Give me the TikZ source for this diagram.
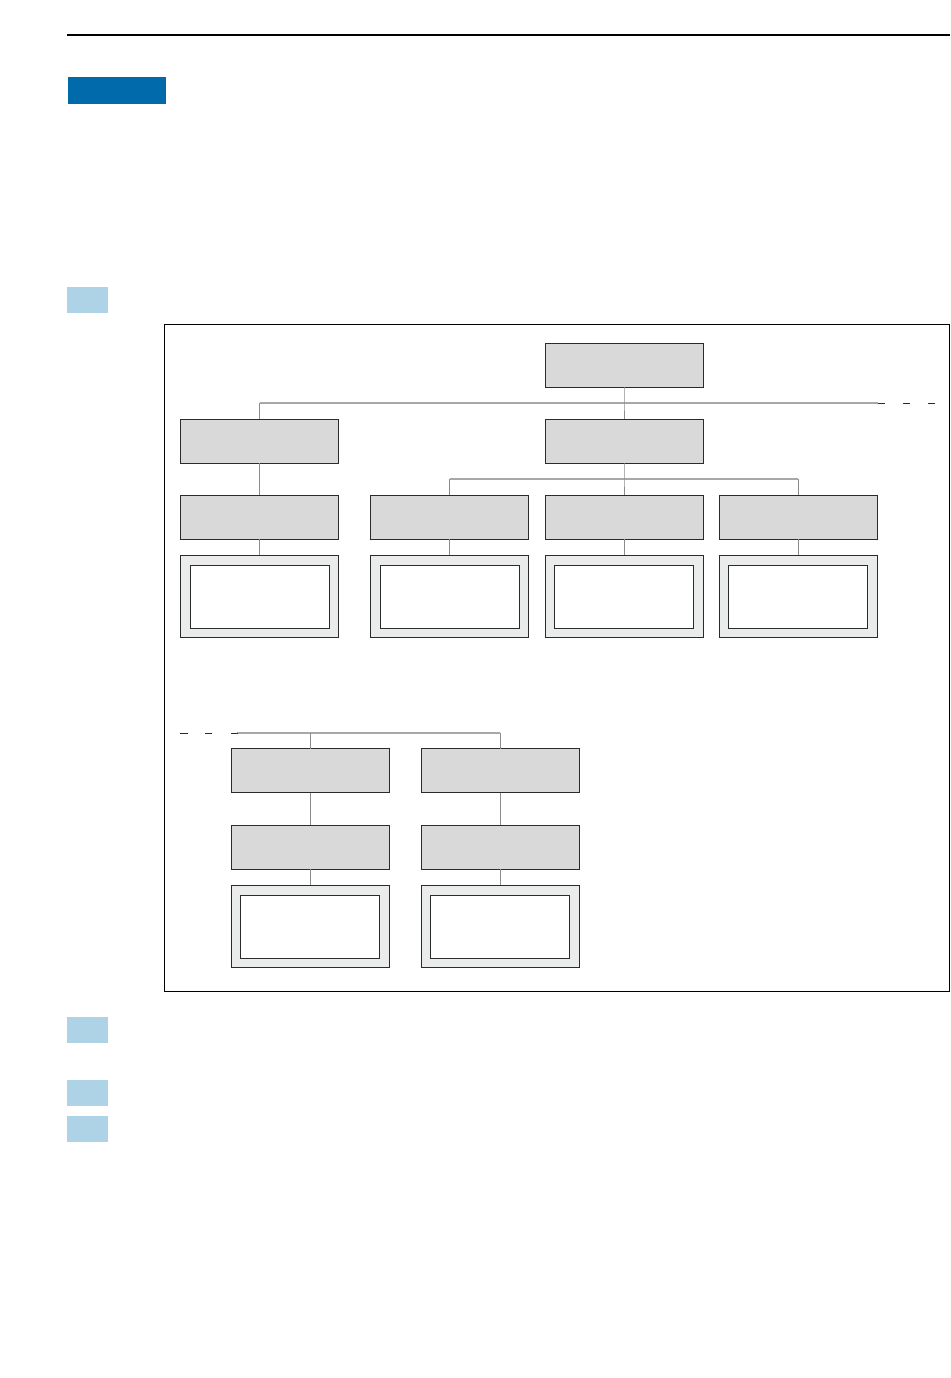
\documentclass[tikz,border=0pt]{standalone}
\definecolor{boxgray}{HTML}{D9D9D9}
\definecolor{outergray}{HTML}{EAEBEB}
\definecolor{edgedark}{HTML}{2B2B2B}
\definecolor{linegray}{HTML}{8C8C8C}
\definecolor{hlgray}{HTML}{A8A8A8}
\definecolor{headblue}{HTML}{006AAB}
\definecolor{markblue}{HTML}{AED3E7}
\begin{document}
\begin{tikzpicture}[x=1pt,y=-1pt,
  graybox/.style={draw=edgedark,fill=boxgray,line width=1pt,minimum width=158pt,minimum height=44pt,inner sep=0pt,outer sep=0pt},
  outerbox/.style={draw=edgedark,fill=outergray,line width=1pt,minimum width=158pt,minimum height=82pt,inner sep=0pt,outer sep=0pt},
  innerbox/.style={draw=edgedark,fill=white,line width=1pt,minimum width=139pt,minimum height=63pt,inner sep=0pt,outer sep=0pt},
  conn/.style={draw=linegray,line width=0.9pt},
  hconn/.style={draw=hlgray,line width=1.1pt},
  dashbit/.style={draw=edgedark,line width=1pt},
  marker/.style={fill=markblue,draw=none,minimum width=41pt,minimum height=26pt,inner sep=0pt}]
\useasboundingbox (0,0) rectangle (950,1378);
\fill[white] (0,0) rectangle (950,1378);
% header rule and blue tab
\draw[line width=1.3pt] (67,35) coordinate (ruleA) -- (950,35) coordinate (ruleB);
\node[fill=headblue,minimum width=98pt,minimum height=27pt,inner sep=0pt] (tab) at (117,90.5) {};
% markers
\node[marker] (m1) at (87.5,300) {};
\node[marker] (m2) at (87.5,1029.5) {};
\node[marker] (m3) at (87.5,1092.5) {};
\node[marker] (m4) at (87.5,1128.5) {};
% frame
\draw[line width=1pt] (164,324) rectangle (949,991);
% top part boxes
\node[graybox] (top) at (624,365) {};
\node[graybox] (l2) at (259.5,441) {};
\node[graybox] (m2b) at (624,441) {};
\node[graybox] (a3) at (259.5,517) {};
\node[graybox] (b3) at (449.5,517) {};
\node[graybox] (c3) at (624,517) {};
\node[graybox] (d3) at (798,517) {};
\foreach \n/\x in {a/259.5,b/449.5,c/624,d/798}{
  \node[outerbox] (\n4) at (\x,596) {};
  \node[innerbox] (\n4i) at (\x,596.5) {};
}
% lower part boxes
\node[graybox] (e1) at (310,770.5) {};
\node[graybox] (f1) at (500,770.5) {};
\node[graybox] (e2) at (310,847) {};
\node[graybox] (f2) at (500,847) {};
\node[outerbox] (e3) at (310,926) {};
\node[innerbox] (e3i) at (310,926.5) {};
\node[outerbox] (f3) at (500,926) {};
\node[innerbox] (f3i) at (500,926.5) {};
% coordinates for connectors
\coordinate (h1L) at (259.5,403);
\coordinate (h1M) at (624,403);
\coordinate (h1R) at (878,403);
\coordinate (h2L) at (449.5,479);
\coordinate (h2M) at (624,479);
\coordinate (h2R) at (798,479);
\coordinate (h3L) at (237,733);
\coordinate (h3A) at (310,733);
\coordinate (h3B) at (500,733);
% connectors top
\draw[hconn] (h1L) -- (h1R);
\draw[conn] (top.south) -- (h1M) -- (m2b.north);
\draw[conn] (h1L) -- (l2.north);
\draw[conn] (l2.south) -- (a3.north);
\draw[hconn] (h2L) -- (h2R);
\draw[conn] (m2b.south) -- (h2M) -- (c3.north);
\draw[conn] (h2L) -- (b3.north);
\draw[conn] (h2R) -- (d3.north);
\foreach \n in {a,b,c,d}{\draw[conn] (\n3.south) -- (\n4.north);}
% dashes right
\draw[dashbit] (878,403) -- (885,403);
\draw[dashbit] (903,403) -- (910,403);
\draw[dashbit] (928,403) -- (935,403);
% lower connectors
\draw[hconn] (h3L) -- (h3B);
\draw[conn] (h3A) -- (e1.north);
\draw[conn] (h3B) -- (f1.north);
\draw[conn] (e1.south) -- (e2.north);
\draw[conn] (e2.south) -- (e3.north);
\draw[conn] (f1.south) -- (f2.north);
\draw[conn] (f2.south) -- (f3.north);
\draw[dashbit] (180,733) -- (188,733);
\draw[dashbit] (205,733) -- (212,733);
\draw[dashbit] (231,733) -- (238,733);
\end{tikzpicture}
\end{document}
